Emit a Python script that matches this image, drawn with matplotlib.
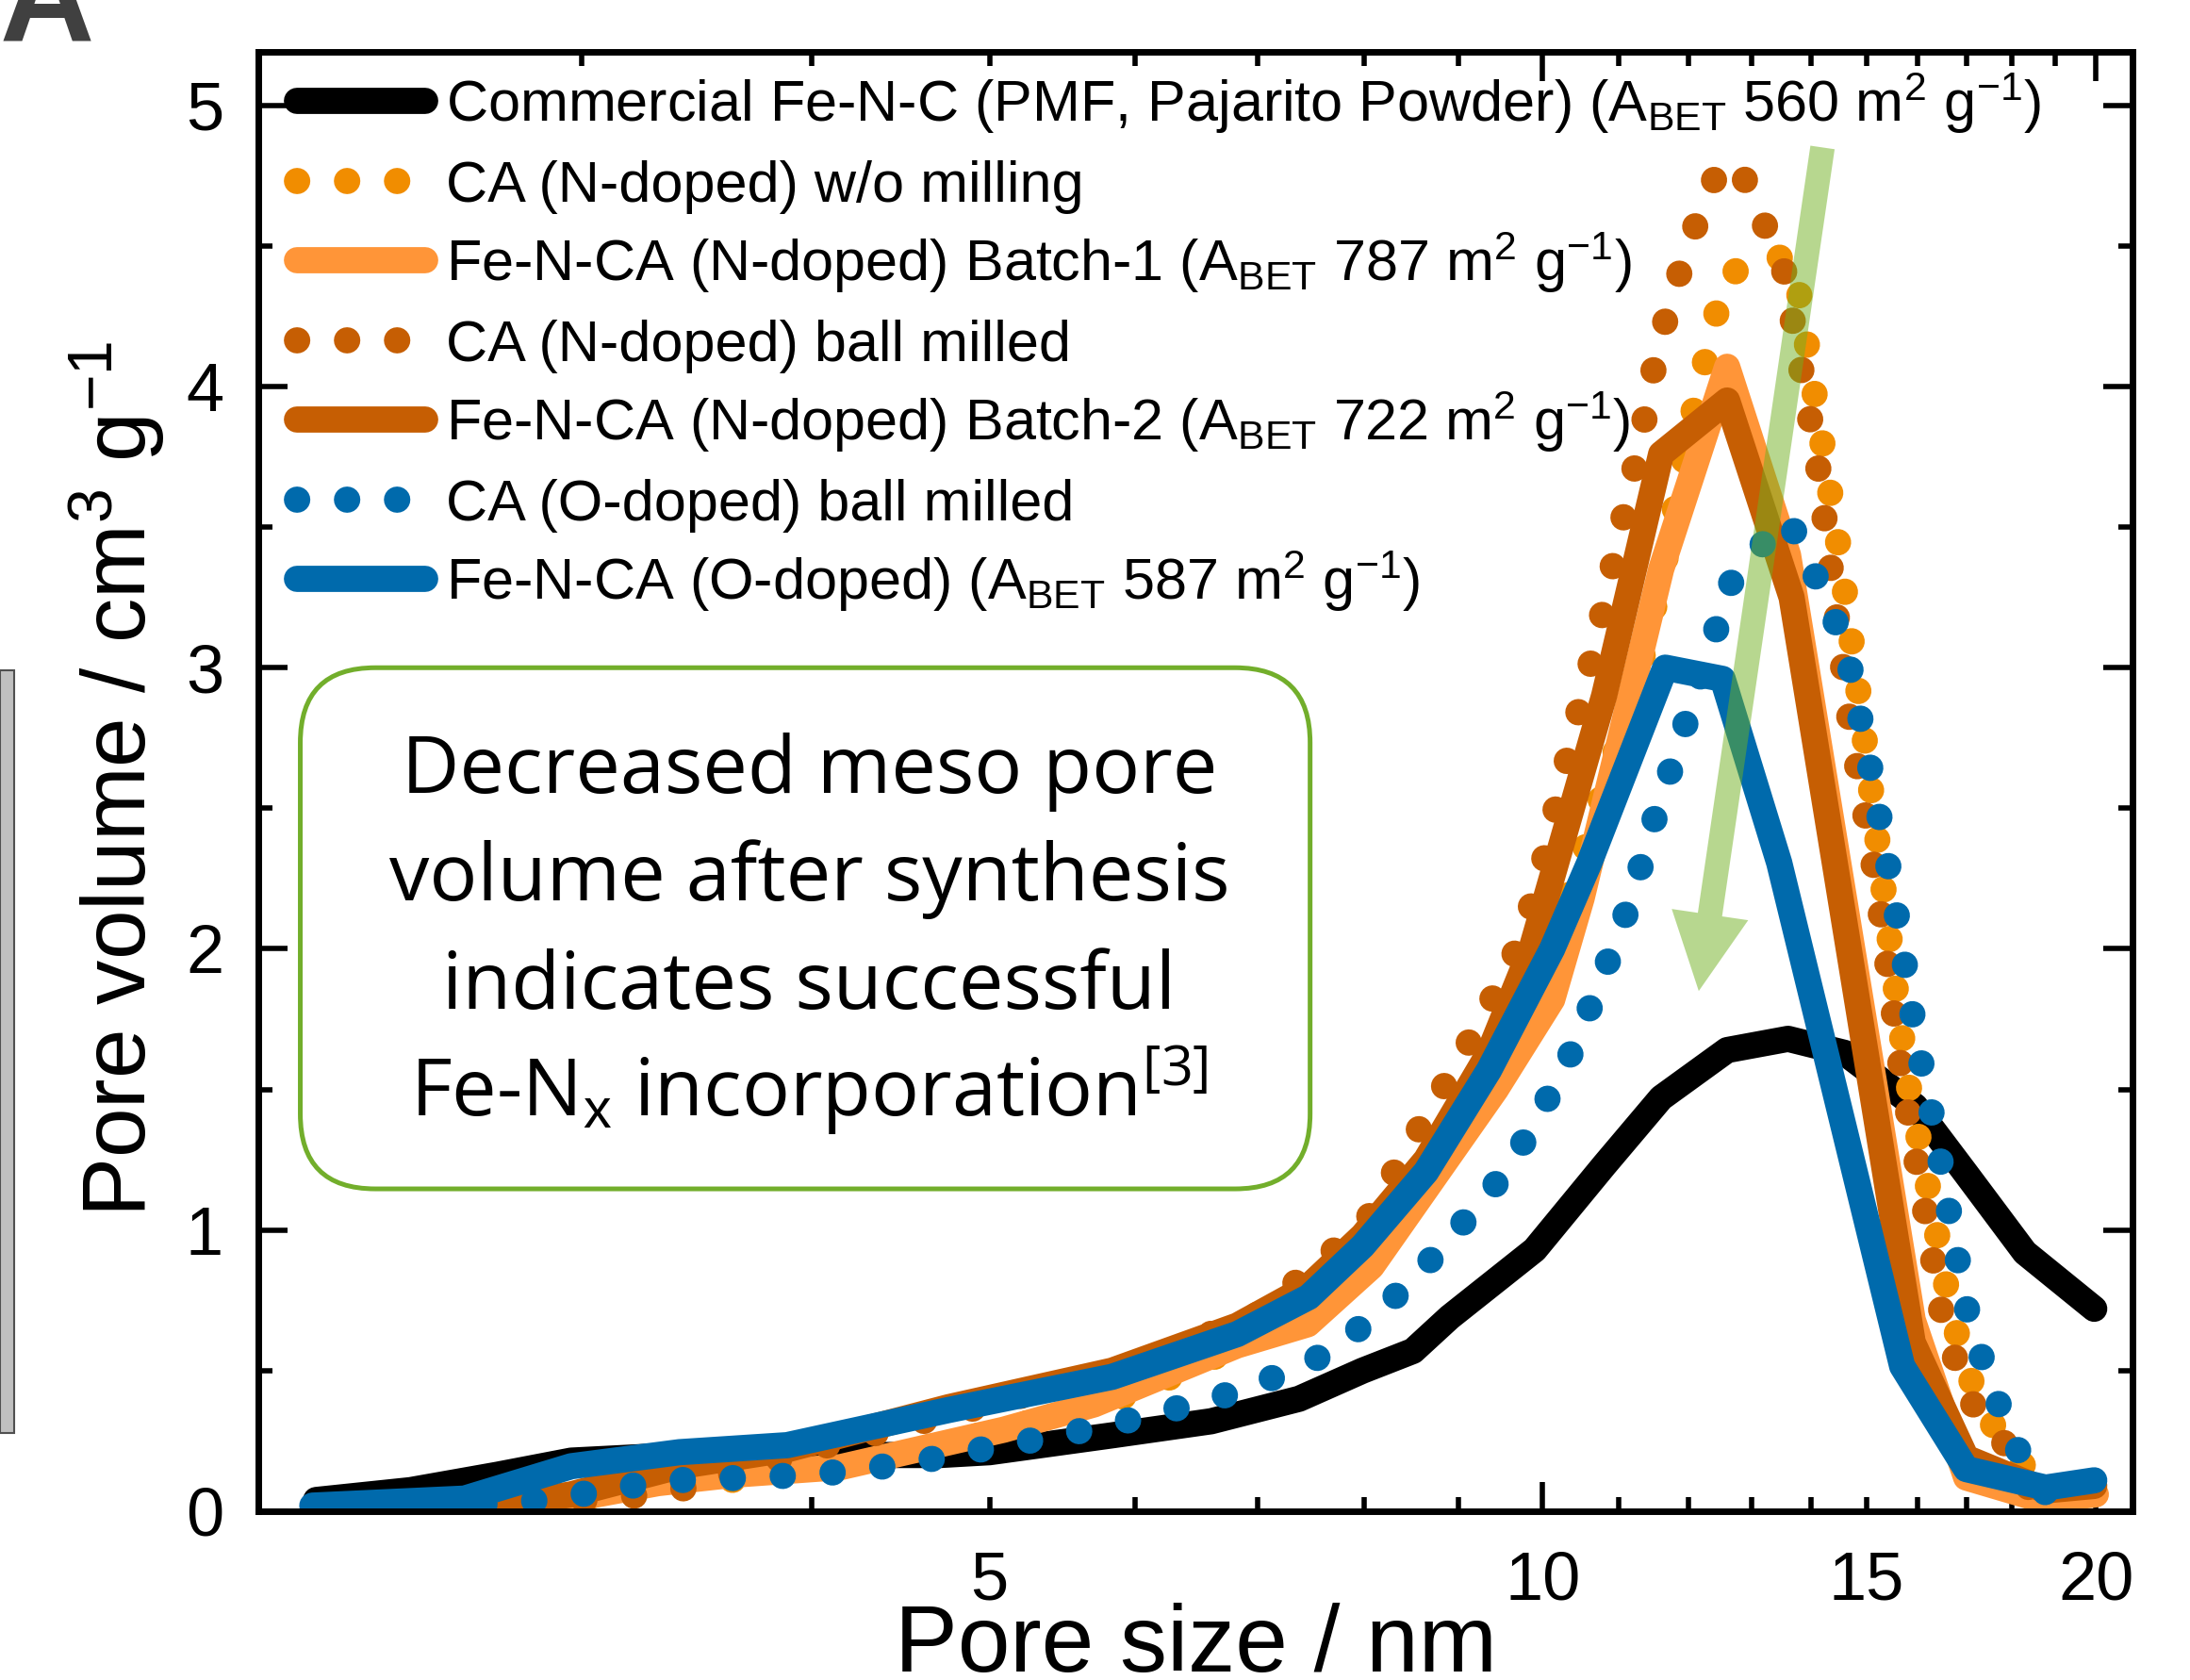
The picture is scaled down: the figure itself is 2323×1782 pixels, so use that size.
import matplotlib
matplotlib.use("Agg")
import matplotlib.pyplot as plt
from matplotlib.patches import FancyBboxPatch, Rectangle
from matplotlib.ticker import FixedLocator, FixedFormatter, MultipleLocator
import numpy as np

plt.rcParams["font.family"] = ["Liberation Sans", "DejaVu Sans"]
plt.rcParams["mathtext.fontset"] = "custom"
plt.rcParams["mathtext.rm"] = "Liberation Sans"
plt.rcParams["mathtext.it"] = "Liberation Sans:italic"
plt.rcParams["mathtext.bf"] = "Liberation Sans:bold"
plt.rcParams["mathtext.default"] = "regular"

pmf_x = [2.15, 2.42, 2.7, 2.96, 3.4, 4.0, 4.7, 5.0, 5.83, 6.6, 7.37, 7.98, 8.5, 8.9,
         9.9, 10.8, 11.6, 12.6, 13.6, 14.6, 15.3, 15.95, 17.0, 18.3, 19.96]
pmf_y = [0.04, 0.075, 0.13, 0.18, 0.20, 0.20, 0.20, 0.21, 0.27, 0.32, 0.40, 0.50, 0.57, 0.69,
         0.93, 1.23, 1.47, 1.64, 1.68, 1.63, 1.53, 1.44, 1.20, 0.92, 0.72]

ca_n_x = [2.2, 2.6, 3.0, 3.5, 4.15, 5.09, 6.0, 7.0, 8.0, 9.0, 10.0, 10.6, 11.2, 11.65,
          12.05, 12.2, 12.4, 12.5, 13.1, 13.7, 14.0, 14.5, 14.9, 15.27, 15.55, 15.8,
          16.36, 16.7, 17.0, 17.3, 18.0, 18.5, 19.0]
ca_n_y = [0.0, 0.0, 0.03, 0.10, 0.157, 0.29, 0.42, 0.62, 0.90, 1.35, 1.90, 2.40, 2.90, 3.37,
          3.88, 4.04, 4.21, 4.37, 4.47, 4.45, 4.05, 3.42, 2.85, 2.30, 1.88, 1.53,
          1.015, 0.69, 0.526, 0.36, 0.23, 0.10, 0.0]

b1_x = [2.5, 2.75, 3.0, 3.3, 3.63, 4.15, 5.09, 5.7, 6.82, 7.45, 8.07, 9.43, 10.12, 10.5,
        11.6, 12.6, 13.6, 15.9, 17.0, 18.7, 20.0]
b1_y = [0.0, 0.0, 0.05, 0.10, 0.13, 0.157, 0.29, 0.38, 0.59, 0.665, 0.87, 1.50, 1.82, 2.18,
        3.35, 4.07, 3.40, 0.68, 0.12, 0.04, 0.06]

ca_nbm_x = [2.2, 2.55, 2.96, 3.35, 4.0, 5.0, 6.0, 7.0, 8.0, 8.46, 9.0, 9.6, 9.8, 9.97,
            10.4, 10.7, 11.0, 11.3, 11.55, 11.94, 12.2, 12.5, 12.8, 13.1, 13.5, 13.75,
            14.1, 14.4, 14.7, 15.2, 15.45, 15.7, 16.2, 16.5, 16.8, 17.2, 17.9, 18.4, 18.9]
ca_nbm_y = [0.0, 0.01, 0.035, 0.067, 0.22, 0.38, 0.52, 0.70, 1.02, 1.30, 1.60, 1.94, 2.10, 2.26,
            2.78, 3.10, 3.46, 3.80, 4.14, 4.46, 4.63, 4.79, 4.78, 4.62, 4.45, 4.15,
            3.75, 3.27, 2.80, 2.23, 1.88, 1.53, 1.015, 0.69, 0.526, 0.36, 0.23, 0.08, 0.0]

b2_x = [2.6, 2.96, 3.39, 3.88, 4.75, 5.83, 6.82, 7.46, 7.98, 8.64, 9.35, 9.87, 10.8,
        11.6, 12.6, 13.66, 15.9, 17.0, 18.78, 19.96]
b2_y = [0.0, 0.06, 0.16, 0.22, 0.37, 0.50, 0.66, 0.80, 0.98, 1.25, 1.63, 2.01, 2.90,
        3.76, 3.95, 3.25, 0.60, 0.19, 0.074, 0.09]

ca_obm_x = [2.2, 2.77, 2.97, 3.16, 3.37, 3.8, 4.06, 4.33, 4.6, 4.9, 5.22, 5.55, 5.88, 6.27,
            6.7, 7.1, 7.48, 7.88, 8.24, 8.6, 8.95, 9.35, 9.7, 10.0, 10.3, 10.55, 10.8,
            11.04, 11.26, 11.45, 11.66, 11.9, 12.1, 12.4, 12.5, 12.95, 13.6, 13.95, 14.3,
            14.64, 14.8, 15.0, 15.35, 15.67, 15.96, 16.36, 16.7, 17.08, 17.44, 17.8, 18.25,
            18.95, 19.2]
ca_obm_y = [0.0, 0.03, 0.056, 0.087, 0.11, 0.123, 0.134, 0.155, 0.18, 0.215, 0.247, 0.28,
            0.315, 0.36, 0.41, 0.47, 0.53, 0.63, 0.74, 0.86, 0.99, 1.13, 1.28, 1.435, 1.59,
            1.75, 1.92, 2.08, 2.25, 2.42, 2.58, 2.75, 2.92, 3.09, 3.25, 3.39, 3.53, 3.38,
            3.23, 3.06, 2.90, 2.72, 2.37, 2.03, 1.69, 1.35, 1.005, 0.665, 0.50, 0.34, 0.18,
            0.03, 0.0]

feo_x = [2.14, 2.59, 2.96, 3.39, 3.88, 4.75, 5.83, 6.82, 7.46, 7.98, 8.64, 9.35, 10.12,
         10.6, 11.66, 12.53, 13.45, 15.69, 17.0, 18.78, 19.96]
feo_y = [0.02, 0.045, 0.16, 0.21, 0.235, 0.36, 0.478, 0.63, 0.762, 0.943, 1.207, 1.569, 2.0,
         2.305, 3.0, 2.96, 2.306, 0.516, 0.15, 0.084, 0.11]

labels = [
    "Commercial Fe-N-C (PMF, Pajarito Powder) (A$_\\mathrm{BET}$ 560 m$^2$ g$^{-1}$)",
    "CA (N-doped) w/o milling",
    "Fe-N-CA (N-doped) Batch-1 (A$_\\mathrm{BET}$ 787 m$^2$ g$^{-1}$)",
    "CA (N-doped) ball milled",
    "Fe-N-CA (N-doped) Batch-2 (A$_\\mathrm{BET}$ 722 m$^2$ g$^{-1}$)",
    "CA (O-doped) ball milled",
    "Fe-N-CA (O-doped) (A$_\\mathrm{BET}$ 587 m$^2$ g$^{-1}$)",
]

note_lines = ["Decreased meso pore", "volume after synthesis", "indicates successful",
              "Fe-N$_\\mathrm{x}$ incorporation$^{[3]}$"]

x_major = [10, 20]
x_minor = [3, 4, 5, 6, 7, 8, 9, 11, 12, 13, 14, 15, 16, 17, 18, 19]

# ---- styles ----
BLACK = "#000000"
ORANGE_LIGHT_DOT = "#F18D00"
ORANGE_LIGHT = "#FF9538"
ORANGE_DARK = "#C65E03"
BLUE = "#006AAC"
GREEN = "#72AE2B"

SOLID_LW = 20
DOT_LW = 20
DOTTED = (0, (0.01, 1.9))

series = [
    (pmf_x, pmf_y, BLACK, "solid"),
    (ca_n_x, ca_n_y, ORANGE_LIGHT_DOT, "dot"),
    (b1_x, b1_y, ORANGE_LIGHT, "solid"),
    (ca_nbm_x, ca_nbm_y, ORANGE_DARK, "dot"),
    (b2_x, b2_y, ORANGE_DARK, "solid"),
    (ca_obm_x, ca_obm_y, BLUE, "dot"),
    (feo_x, feo_y, BLUE, "solid"),
]


def line_style(color, kind):
    if kind == "dot":
        return dict(color=color, lw=DOT_LW, linestyle=DOTTED,
                    dash_capstyle="round", dash_joinstyle="round")
    return dict(color=color, lw=SOLID_LW, solid_capstyle="round",
                solid_joinstyle="round")


fig = plt.figure(figsize=(23.23, 17.82), dpi=100)
ax = fig.add_axes([0.11795, 0.10045, 0.85579, 0.86869])

for x, y, color, kind in series:
    ax.plot(x, y, **line_style(color, kind))

ax.set_xscale("log")
ax.set_xlim(2.0, 20.94)
ax.set_ylim(0, 5.19)

ax.xaxis.set_major_locator(FixedLocator(x_major))
ax.xaxis.set_major_formatter(FixedFormatter([str(v) for v in x_major]))
ax.xaxis.set_minor_locator(FixedLocator(x_minor))
ax.xaxis.set_minor_formatter(FixedFormatter([str(v) if v in (5, 15) else "" for v in x_minor]))
ax.yaxis.set_major_locator(MultipleLocator(1))
ax.yaxis.set_minor_locator(MultipleLocator(0.5))

ax.tick_params(which="both", direction="in", top=True, right=True, width=4,
               labelsize=52)
ax.tick_params(which="major", length=22)
ax.tick_params(which="minor", length=11)
ax.tick_params(axis="x", which="both", pad=30)
ax.tick_params(axis="y", which="both", pad=26.6)
for sp in ax.spines.values():
    sp.set_linewidth(5)

ax.set_xlabel("Pore size / nm", fontsize=72)
ax.set_ylabel("Pore volume / cm$^3$ g$^{-1}$", fontsize=68)
ax.xaxis.set_label_coords(0.5005, -0.0627)
ax.yaxis.set_label_coords(-0.0488, 0.502)

# legend drawn row by row
row_y = 0.9664 - 0.0546 * np.arange(len(series))
for (x, y, color, kind), lab, ry in zip(series, labels, row_y):
    x_end = 0.0785 if kind == "dot" else 0.0890
    ax.plot([0.0206, x_end], [ry, ry], transform=ax.transAxes, clip_on=False,
            **line_style(color, kind))
    ax.text(0.1003, ry - 0.0142, lab, transform=ax.transAxes, fontsize=44,
            va="baseline", ha="left")

# annotation box
box = FancyBboxPatch((0.0224, 0.2209), 0.5388, 0.3571,
                     boxstyle="round,pad=0,rounding_size=0.04",
                     mutation_aspect=1988 / 1548, transform=ax.transAxes,
                     fill=False, edgecolor=GREEN, lw=3.6, clip_on=False)
ax.add_patch(box)
for line, by in zip(note_lines, [0.4925, 0.4188, 0.3446, 0.2704]):
    ax.text(0.294, by, line, transform=ax.transAxes, fontsize=61,
            family="Open Sans", ha="center", va="baseline")

# arrow
ax.annotate("", xy=(12.16, 1.85), xytext=(14.2, 4.85),
            arrowprops=dict(arrowstyle="simple,head_length=5.9,head_width=5.9,tail_width=1.87",
                            mutation_scale=10, facecolor="#71B121", edgecolor="none",
                            alpha=0.5, shrinkA=0, shrinkB=0))

# panel letter and neighbouring panel edge
fig.text(0.0, 1 - 44 / 1782, "A", fontsize=100, fontweight="bold", color="#404040",
         ha="left", va="baseline")
fig.patches.append(Rectangle((0, 0.147), 0.0065, 0.454, transform=fig.transFigure,
                             facecolor="#C0C0C0", edgecolor="#505050", lw=1.5))

fig.savefig("out.png", dpi=100)
